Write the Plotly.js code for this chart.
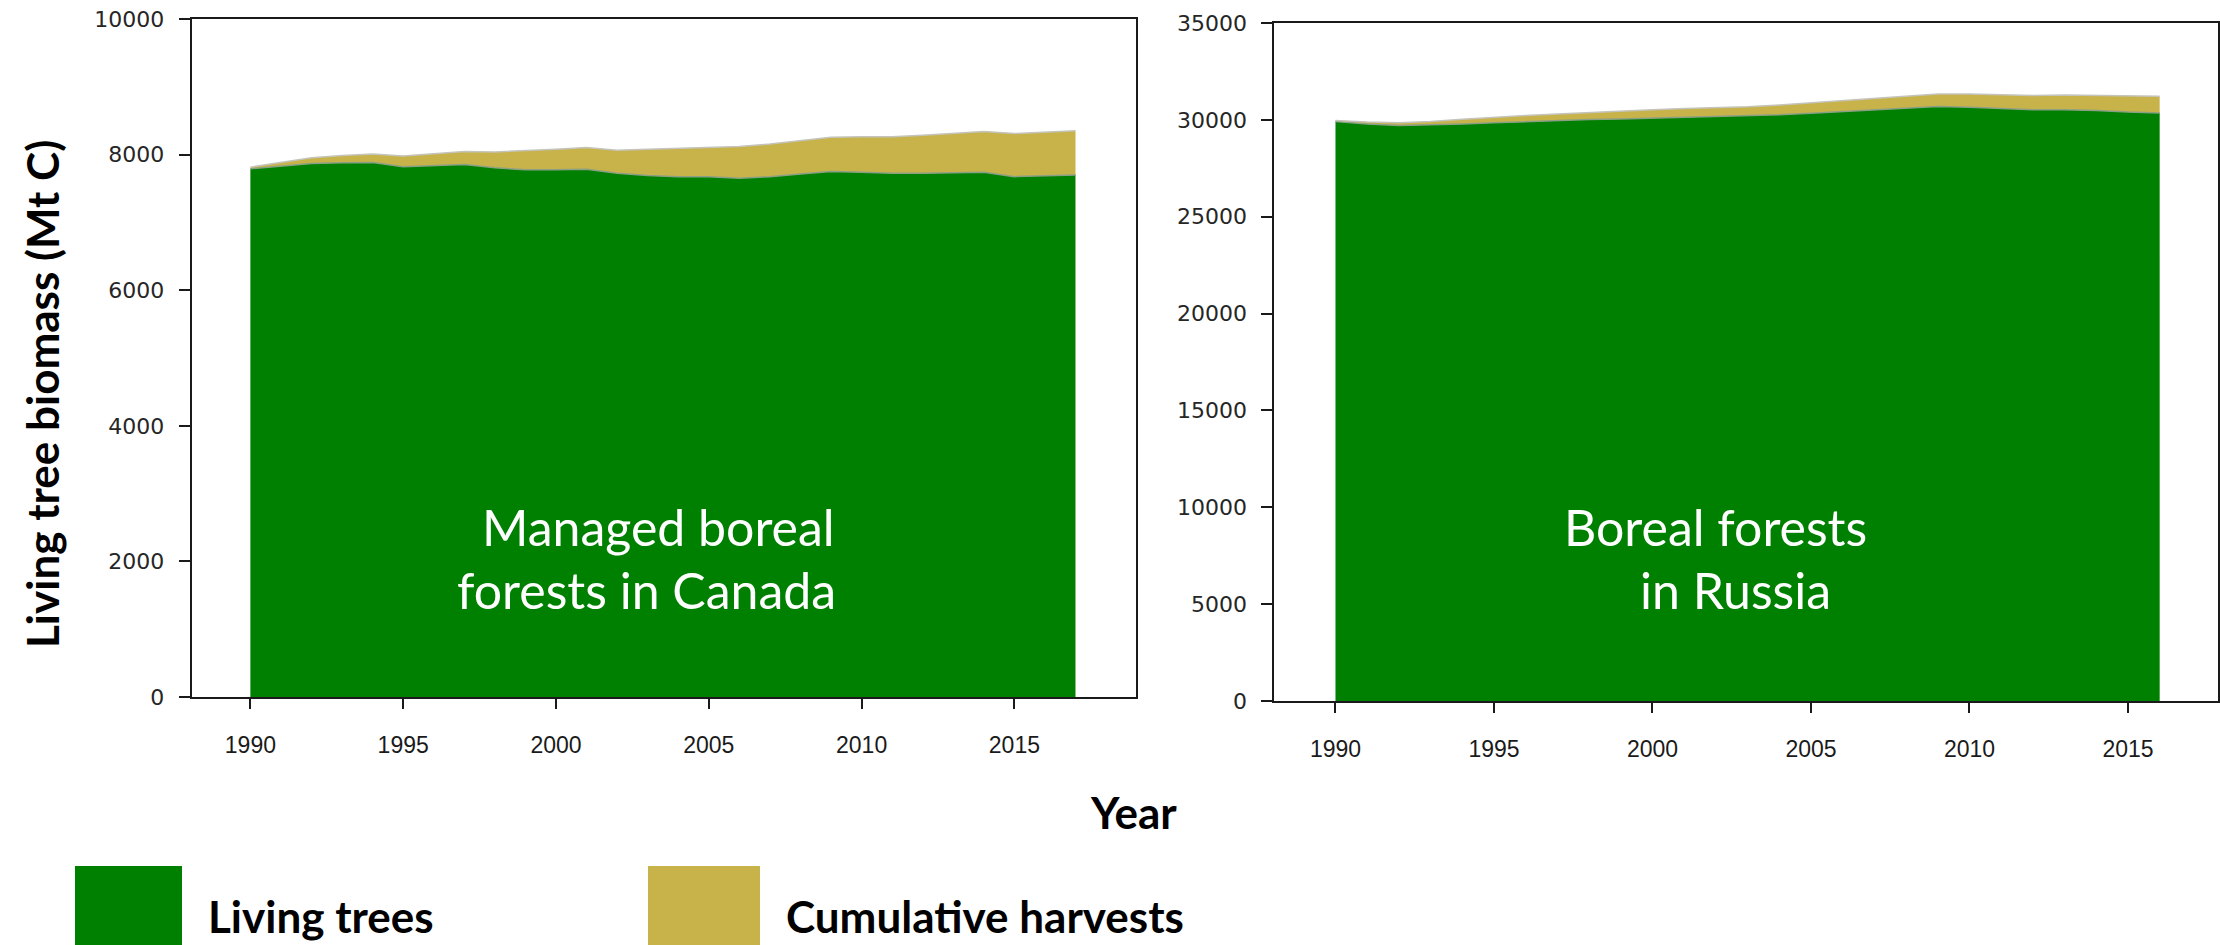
<!DOCTYPE html>
<html>
<head>
<meta charset="utf-8">
<script src="https://cdn.plot.ly/plotly-3.0.1.min.js"></script>
<style>
  html, body { margin: 0; padding: 0; background: #ffffff; }
  #chart { width: 2220px; height: 945px; }
</style>
</head>
<body>
<div id="chart"></div>
<script>
// Living tree biomass and cumulative harvests (Mt C), stacked
const yearsCanada = [1990, 1991, 1992, 1993, 1994, 1995, 1996, 1997, 1998, 1999,
                     2000, 2001, 2002, 2003, 2004, 2005, 2006, 2007, 2008, 2009,
                     2010, 2011, 2012, 2013, 2014, 2015, 2016, 2017];
const livingCanada = [7790, 7830, 7870, 7880, 7885, 7820, 7835, 7855, 7805, 7775,
                      7775, 7785, 7725, 7690, 7675, 7675, 7650, 7675, 7715, 7750,
                      7740, 7725, 7725, 7735, 7740, 7675, 7685, 7700];
const harvestCanada = [25, 50, 85, 105, 125, 160, 175, 190, 235, 280,
                       305, 320, 340, 390, 420, 435, 470, 480, 490, 505,
                       525, 540, 560, 580, 600, 635, 645, 650];

const yearsRussia = [1990, 1991, 1992, 1993, 1994, 1995, 1996, 1997, 1998, 1999,
                     2000, 2001, 2002, 2003, 2004, 2005, 2006, 2007, 2008, 2009,
                     2010, 2011, 2012, 2013, 2014, 2015, 2016];
const livingRussia = [29910, 29790, 29710, 29740, 29790, 29850, 29910, 29970, 30020, 30050,
                      30090, 30140, 30170, 30200, 30260, 30340, 30430, 30520, 30620, 30690,
                      30650, 30600, 30520, 30520, 30480, 30400, 30360];
const harvestRussia = [60, 100, 140, 180, 240, 290, 310, 330, 360, 400,
                       430, 440, 460, 480, 510, 540, 560, 580, 600, 640,
                       680, 710, 740, 760, 790, 830, 860];

const xTicks = [1990, 1995, 2000, 2005, 2010, 2015];
const yTicksCanada = [0, 2000, 4000, 6000, 8000, 10000];
const yTicksRussia = [0, 5000, 10000, 15000, 20000, 25000, 30000, 35000];

const seriesNames = ['Living trees', 'Cumulative harvests'];
const panelLabels = [['Managed boreal', 'forests in Canada'], ['Boreal forests', 'in Russia']];
const xTitle = 'Year';
const yTitle = 'Living tree biomass (Mt C)';

const GREEN = '#008000';
const GOLD = '#C8B24A';
const AXIS = '#1a1a1a';
const TEXT_FONT = 'Lato, "Open Sans", sans-serif';

function stackTraces(x, living, harvest, xa, ya) {
  return [
    {
      type: 'scatter', mode: 'lines', x: x, y: living, xaxis: xa, yaxis: ya,
      stackgroup: ya, fillcolor: GREEN,
      line: { color: '#8a9f84', width: 1.5 }, name: seriesNames[0], showlegend: false
    },
    {
      type: 'scatter', mode: 'lines', x: x, y: harvest, xaxis: xa, yaxis: ya,
      stackgroup: ya, fillcolor: GOLD,
      line: { color: '#c4c4bc', width: 1.5 }, name: seriesNames[1], showlegend: false
    }
  ];
}

const data = [].concat(
  stackTraces(yearsCanada, livingCanada, harvestCanada, 'x', 'y'),
  stackTraces(yearsRussia, livingRussia, harvestRussia, 'x2', 'y2')
);

const W = 2220, H = 945;
const px = v => v / W;
const py = v => 1 - v / H;

const xBase = {
  tickmode: 'array', tickvals: xTicks, ticks: 'outside', ticklen: 10, tickwidth: 2,
  tickcolor: AXIS, showline: true, linewidth: 2, linecolor: AXIS, mirror: true,
  showgrid: false, zeroline: false, ticklabelstandoff: 16,
  tickfont: { family: '"Liberation Sans Narrow", "Liberation Sans", sans-serif', size: 23, color: '#1a1a1a' }
};
const yBase = {
  tickmode: 'array', ticks: 'outside', ticklen: 11, tickwidth: 2,
  tickcolor: AXIS, showline: true, linewidth: 2, linecolor: AXIS, mirror: true,
  showgrid: false, zeroline: false, ticklabelstandoff: 10,
  exponentformat: 'none', separatethousands: false, tickformat: 'd',
  tickfont: { family: '"DejaVu Sans", sans-serif', size: 22, color: '#262626' }
};

const labelFont = { family: TEXT_FONT, size: 50, color: '#ffffff' };
const boldFont = { family: TEXT_FONT, size: 44, color: '#000000' };

const layout = {
  width: W, height: H,
  margin: { l: 0, r: 0, t: 0, b: 0 },
  paper_bgcolor: '#ffffff', plot_bgcolor: '#ffffff',
  showlegend: false,
  xaxis: Object.assign({}, xBase, { domain: [px(191.7), px(1135.7)], range: [1988.08, 2018.97], anchor: 'y' }),
  yaxis: Object.assign({}, yBase, { domain: [py(697), py(19)], range: [0, 10000], tickvals: yTicksCanada, anchor: 'x' }),
  xaxis2: Object.assign({}, xBase, { domain: [px(1274.3), px(2218)], range: [1988.07, 2017.84], anchor: 'y2' }),
  yaxis2: Object.assign({}, yBase, { domain: [py(701), py(23)], range: [0, 35000], tickvals: yTicksRussia, anchor: 'x2' }),
  shapes: [
    { type: 'rect', xref: 'paper', yref: 'paper', x0: px(75), x1: px(182), y0: py(945), y1: py(866),
      fillcolor: GREEN, line: { width: 0 } },
    { type: 'rect', xref: 'paper', yref: 'paper', x0: px(648), x1: px(760), y0: py(945), y1: py(866),
      fillcolor: GOLD, line: { width: 0 } }
  ],
  annotations: [
    { text: panelLabels[0][0], xref: 'paper', yref: 'paper', x: px(658), y: py(527), showarrow: false,
      xanchor: 'center', yanchor: 'middle', font: labelFont },
    { text: panelLabels[0][1], xref: 'paper', yref: 'paper', x: px(646), y: py(590), showarrow: false,
      xanchor: 'center', yanchor: 'middle', font: labelFont },
    { text: panelLabels[1][0], xref: 'paper', yref: 'paper', x: px(1715), y: py(527), showarrow: false,
      xanchor: 'center', yanchor: 'middle', font: labelFont },
    { text: panelLabels[1][1], xref: 'paper', yref: 'paper', x: px(1735), y: py(590), showarrow: false,
      xanchor: 'center', yanchor: 'middle', font: labelFont },
    { text: '<b>' + xTitle + '</b>', xref: 'paper', yref: 'paper', x: px(1133), y: py(812), showarrow: false,
      xanchor: 'center', yanchor: 'middle', font: boldFont },
    { text: '<b>' + yTitle + '</b>', xref: 'paper', yref: 'paper', x: px(42), y: py(394), showarrow: false,
      textangle: -90, xanchor: 'center', yanchor: 'middle', font: boldFont },
    { text: '<b>' + seriesNames[0] + '</b>', xref: 'paper', yref: 'paper', x: px(206), y: py(916), showarrow: false,
      xanchor: 'left', yanchor: 'middle', font: boldFont },
    { text: '<b>' + seriesNames[1] + '</b>', xref: 'paper', yref: 'paper', x: px(784), y: py(916), showarrow: false,
      xanchor: 'left', yanchor: 'middle', font: boldFont }
  ]
};

Plotly.newPlot('chart', data, layout, { staticPlot: true, displayModeBar: false });
</script>
</body>
</html>
